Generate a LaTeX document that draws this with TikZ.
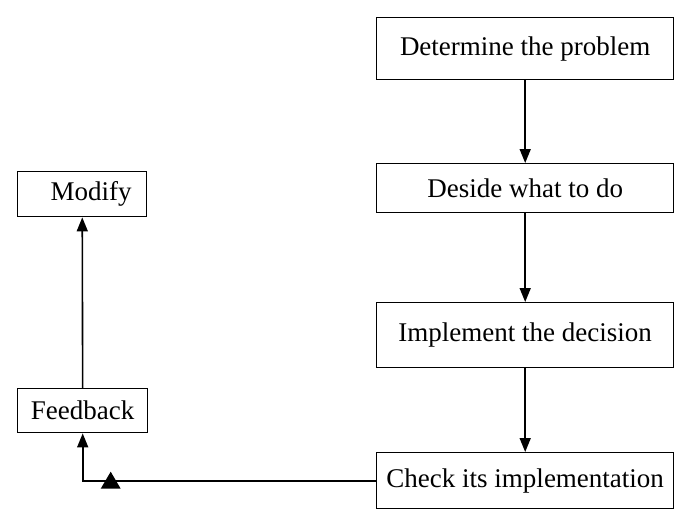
\documentclass[tikz,border=0pt]{standalone}
\usepackage{fontspec}
\setmainfont{Liberation Serif}
\usetikzlibrary{arrows.meta}
\begin{document}
\begin{tikzpicture}[x=1pt,y=-1pt,
  box/.style={draw, line width=1.4pt, inner sep=0pt, anchor=north west,
    font=\fontsize{27}{32}\selectfont},
  arr/.style={line width=1.6pt, -{Triangle[length=14pt,width=11pt]}}]
\useasboundingbox (0,0) rectangle (674,512);
\node[box, minimum width=297pt, minimum height=62pt] (b1) at (376,17) {Determine the problem};
\node[box, minimum width=297pt, minimum height=49pt] (b2) at (376,163) {Deside what to do};
\node[box, minimum width=297pt, minimum height=65pt] (b3) at (376,302) {Implement the decision};
\node[box, minimum width=297pt, minimum height=56pt] (b4) at (376,452) {Check its implementation};
\node[box, minimum width=129pt, minimum height=45pt] (mod) at (17,171) {\hspace*{18pt}Modify};
\node[box, minimum width=130pt, minimum height=44pt] (fb) at (17,388) {Feedback};
\draw[arr] (b1) -- (b2);
\draw[arr] (b2) -- (b3);
\draw[arr] (b3) -- (b4);
\draw[arr] (fb) -- (mod);
\draw[arr] (b4.west) -| (fb.south);
\coordinate (tri) at ([xshift=28pt]fb.south |- b4.west);
\fill (tri) ++(-10,8) -- ++(20,0) -- ++(-10,-17) -- cycle;
\end{tikzpicture}
\end{document}
